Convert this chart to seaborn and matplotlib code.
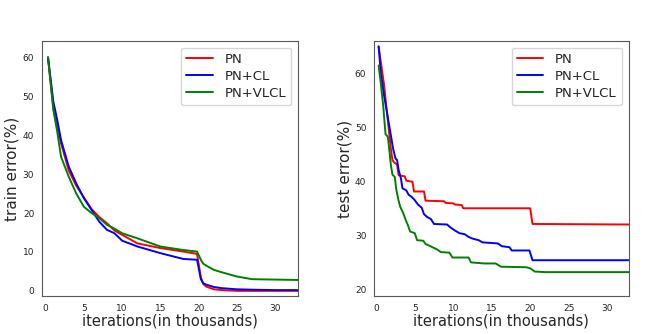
import matplotlib
matplotlib.use("Agg")
import matplotlib.pyplot as plt
import pandas as pd
import seaborn as sns

# train error curves (iterations in thousands, error in %)
train_x = [0.3, 1, 1.5, 2, 3, 4, 5, 6, 7, 8, 9, 10, 12, 15, 18, 19.8, 20.3, 20.6, 21, 22, 23, 25, 27, 30, 33]
train_pn = [60, 47, 42, 38, 31, 27, 24, 21, 19, 17.4, 15.5, 14.4, 12.2, 11, 10.1, 9.5, 3.5, 1.8, 1.1, 0.4, 0.2, 0, 0, 0, 0]
train_cl = [60, 48.6, 44, 38.8, 32, 27.6, 23.8, 20.8, 17.8, 15.7, 14.8, 12.9, 11.4, 9.7, 8.2, 8, 3, 2, 1.6, 1, 0.7, 0.4, 0.3, 0.2, 0.2]
train_vlcl = [60, 46.5, 41, 34.5, 29.4, 25, 21.6, 20, 18.7, 17, 16, 14.8, 13.5, 11.4, 10.5, 10.1, 8, 7, 6.5, 5.4, 4.8, 3.7, 3.0, 2.9, 2.8]

# test error curves
test_pn_x = [0.3, 0.7, 1.0, 1.3, 1.6, 1.9, 2.1, 2.3, 2.7, 2.9, 3.7, 3.9, 4.7, 4.9, 6.2, 6.4, 8.8, 9.0, 10.0,
             10.2, 11.1, 11.3, 20.0, 20.3, 33]
test_pn = [65, 61, 58, 54, 50, 46, 44, 43.6, 43.2, 41.2, 41.0, 40.2, 40.0, 38.2, 38.2, 36.5, 36.4, 36.1, 36.0,
           35.8, 35.7, 35.1, 35.1, 32.2, 32.1]
test_cl_x = [0.3, 0.6, 1.0, 1.3, 1.6, 1.9, 2.2, 2.5, 2.7, 2.9, 3.2, 3.4, 3.9, 4.2, 4.6, 5.0, 5.4, 5.9, 6.2, 6.6,
             7.1, 7.5, 9.2, 9.6, 10.2, 10.8, 11.5, 12.0, 12.5, 13.3, 13.8, 15.8, 16.3, 17.3, 17.6, 19.9, 20.3, 33]
test_cl = [65, 60, 56, 53.5, 51, 48.5, 46, 44.3, 44, 42.2, 40.6, 38.8, 38.4, 37.6, 37.2, 36.6, 35.8, 35.2, 34.0,
           33.5, 33.1, 32.2, 32.1, 31.6, 31.0, 30.5, 30.3, 29.8, 29.5, 29.2, 28.8, 28.6, 28.1, 27.9, 27.3, 27.3,
           25.5, 25.5]
test_vlcl_x = [0.3, 0.6, 0.9, 1.1, 1.2, 1.5, 1.7, 1.9, 2.1, 2.4, 2.6, 2.9, 3.1, 3.5, 3.8, 4.1, 4.4, 5.0, 5.3,
               6.1, 6.4, 7.0, 7.6, 8.0, 8.4, 9.5, 9.9, 12.0, 12.3, 14.0, 15.5, 16.2, 19.5, 20.0, 20.6, 22, 33]
test_vlcl = [61.5, 58, 54, 50.5, 48.8, 48.3, 45.8, 43, 41.3, 40.9, 38.5, 36.5, 35.4, 34.2, 33, 32, 30.8, 30.5,
             29.2, 29.1, 28.5, 28.1, 27.7, 27.4, 27.0, 26.9, 26.0, 26.0, 25.1, 24.9, 24.9, 24.3, 24.2, 24.0, 23.4,
             23.3, 23.3]

methods = ["PN", "PN+CL", "PN+VLCL"]
palette = {"PN": "red", "PN+CL": "blue", "PN+VLCL": "green"}


def long_df(xs, ys):
    rows = []
    for name, x, y in zip(methods, xs, ys):
        rows.append(pd.DataFrame({"iter": x, "err": y, "method": name}))
    return pd.concat(rows, ignore_index=True)


train_df = long_df([train_x] * 3, [train_pn, train_cl, train_vlcl])
test_df = long_df([test_pn_x, test_cl_x, test_vlcl_x], [test_pn, test_cl, test_vlcl])

sns.set_style("white")
plt.rcParams["font.family"] = ["DejaVu Sans"]

fig = plt.figure(figsize=(6.65, 3.34), dpi=100)
ax1 = fig.add_axes([0.063, 0.114, 0.385, 0.763])
ax2 = fig.add_axes([0.5624, 0.114, 0.383, 0.763])

sns.lineplot(data=train_df, x="iter", y="err", hue="method", palette=palette, ax=ax1, linewidth=1.4)
sns.lineplot(data=test_df, x="iter", y="err", hue="method", palette=palette, ax=ax2, linewidth=1.4)

ax1.set_xlim(-0.5, 33)
ax1.set_ylim(-1.3, 64.2)
ax1.set_ylabel("train error(%)", fontsize=11, labelpad=2)
ax2.set_xlim(-0.3, 32.8)
ax2.set_ylim(18.9, 66)
ax2.set_yticks([20, 30, 40, 50, 60])
ax2.set_ylabel("test error(%)", fontsize=11, labelpad=2)

for ax in (ax1, ax2):
    ax.set_xticks([0, 5, 10, 15, 20, 25, 30])
    ax.set_xlabel("iterations(in thousands)", fontsize=10.5, labelpad=1)
    ax.tick_params(labelsize=6.5, pad=2)
    for s in ax.spines.values():
        s.set_color("0.35")
    ax.legend(loc="upper right", fontsize=9.5, title=None, frameon=True, handlelength=2.0,
              handletextpad=0.9, labelspacing=0.3)

fig.savefig("out.png", dpi=100)
